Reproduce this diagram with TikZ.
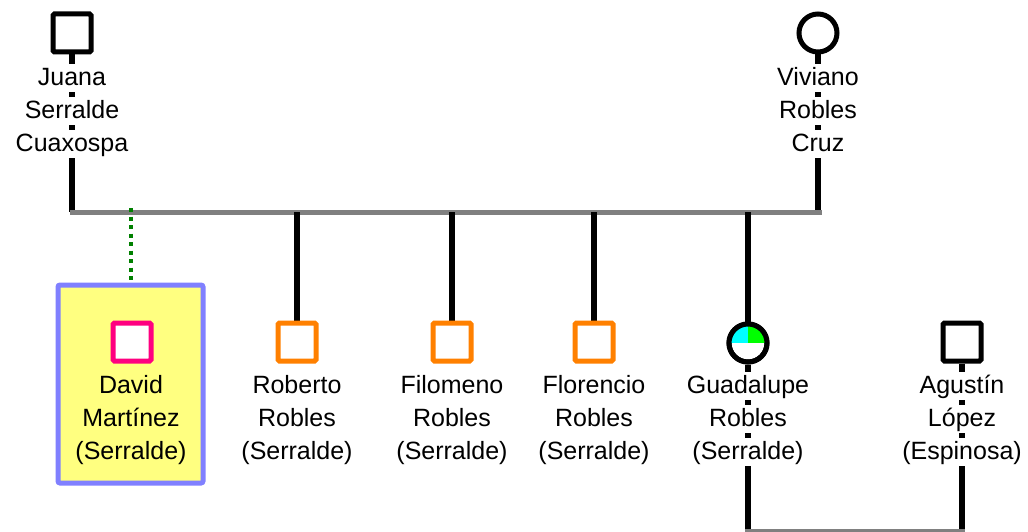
\documentclass[tikz,border=0pt]{standalone}
\usepackage{fontspec}
\setmainfont{Liberation Sans}
\usetikzlibrary{backgrounds}
\definecolor{bargray}{RGB}{128,128,128}
\definecolor{boxyellow}{RGB}{255,255,128}
\definecolor{boxblue}{RGB}{128,128,255}
\definecolor{pinkm}{RGB}{255,0,128}
\definecolor{orng}{RGB}{255,128,0}
\definecolor{dgreen}{RGB}{0,128,0}
\definecolor{qcyan}{RGB}{0,255,255}
\definecolor{qgreen}{RGB}{0,255,0}
\begin{document}
\begin{tikzpicture}[x=1pt,y=-1pt,
  sq/.style={draw, line width=5pt, minimum size=38pt, inner sep=0pt, rounded corners=1.5pt, fill=white},
  ci/.style={draw, circle, line width=5pt, minimum size=38pt, inner sep=0pt, fill=white},
  lbl/.style={fill=white, inner xsep=1pt, inner ysep=0pt, text height=21.5pt, text depth=7pt, font=\fontsize{25}{29}\selectfont},
  lblnf/.style={lbl, fill=none},
  kin/.style={line width=5.5pt, draw=black},
  sibbar/.style={line width=5pt, draw=bargray},
  adopt/.style={line width=4pt, draw=dgreen, dash pattern=on 4pt off 4.5pt},
]
\useasboundingbox (0,0) rectangle (1028,532);
% parents
\node[sq] (juana) at (72,33) {};
\node[lbl] (juana1) at (72,78) {Juana};
\node[lbl] (juana2) at (72,111) {Serralde};
\node[lbl] (juana3) at (72,144) {Cuaxospa};
\node[ci] (viv) at (818,33) {};
\node[lbl] (viv1) at (818,78) {Viviano};
\node[lbl] (viv2) at (818,111) {Robles};
\node[lbl] (viv3) at (818,144) {Cruz};
\coordinate (barL) at (70,212);
\coordinate (barR) at (822,212);
\coordinate (bot) at (0,531);
% David
\node[draw=boxblue, fill=boxyellow, line width=5pt, minimum width=145pt, minimum height=198pt, inner sep=0pt, rounded corners=2pt] (davidbox) at (130.5,384) {};
\node[sq, draw=pinkm] (david) at (132,342) {};
\node[lblnf] (david1) at (131,386) {David};
\node[lblnf] (david2) at (131,419) {Martínez};
\node[lblnf] (david3) at (131,452) {(Serralde)};
% children
\node[sq, draw=orng] (rob) at (297,342) {};
\node[lbl] (rob1) at (297,386) {Roberto};
\node[lbl] (rob2) at (297,419) {Robles};
\node[lbl] (rob3) at (297,452) {(Serralde)};
\node[sq, draw=orng] (fil) at (452,342) {};
\node[lbl] (fil1) at (452,386) {Filomeno};
\node[lbl] (fil2) at (452,419) {Robles};
\node[lbl] (fil3) at (452,452) {(Serralde)};
\node[sq, draw=orng] (flo) at (594,342) {};
\node[lbl] (flo1) at (594,386) {Florencio};
\node[lbl] (flo2) at (594,419) {Robles};
\node[lbl] (flo3) at (594,452) {(Serralde)};
\node[ci] (guad) at (748,343) {};
\begin{scope}
  \clip (guad.center) circle (19pt);
  \fill[qcyan] (guad.center) rectangle ++(-20,-20);
  \fill[qgreen] (guad.center) rectangle ++(20,-20);
\end{scope}
\draw[line width=5pt] (guad.center) circle (19pt);
\node[lbl] (guad1) at (748,386) {Guadalupe};
\node[lbl] (guad2) at (748,419) {Robles};
\node[lbl] (guad3) at (748,452) {(Serralde)};
\node[sq] (agus) at (962,342) {};
\node[lbl] (agus1) at (962,386) {Agustín};
\node[lbl] (agus2) at (962,419) {López};
\node[lbl] (agus3) at (962,452) {(Espinosa)};
% connectors
\begin{scope}[on background layer]
  \draw[kin] (juana) -- (juana |- barL);
  \draw[kin] (viv) -- (viv |- barR);
  \draw[sibbar] (barL) -- (barR);
  \draw[kin] (rob |- barL) -- (rob);
  \draw[kin] (fil |- barL) -- (fil);
  \draw[kin] (flo |- barL) -- (flo);
  \draw[kin] (guad |- barL) -- (guad);
  \draw[kin] (guad) -- (guad |- bot);
  \draw[kin] (agus) -- (agus |- bot);
  \draw[sibbar] ([xshift=-2.75pt]guad |- bot) -- ([xshift=2.75pt]agus |- bot);
\end{scope}
\draw[adopt] ([yshift=4pt]davidbox.north |- barL) -- (davidbox.north);
\end{tikzpicture}
\end{document}
